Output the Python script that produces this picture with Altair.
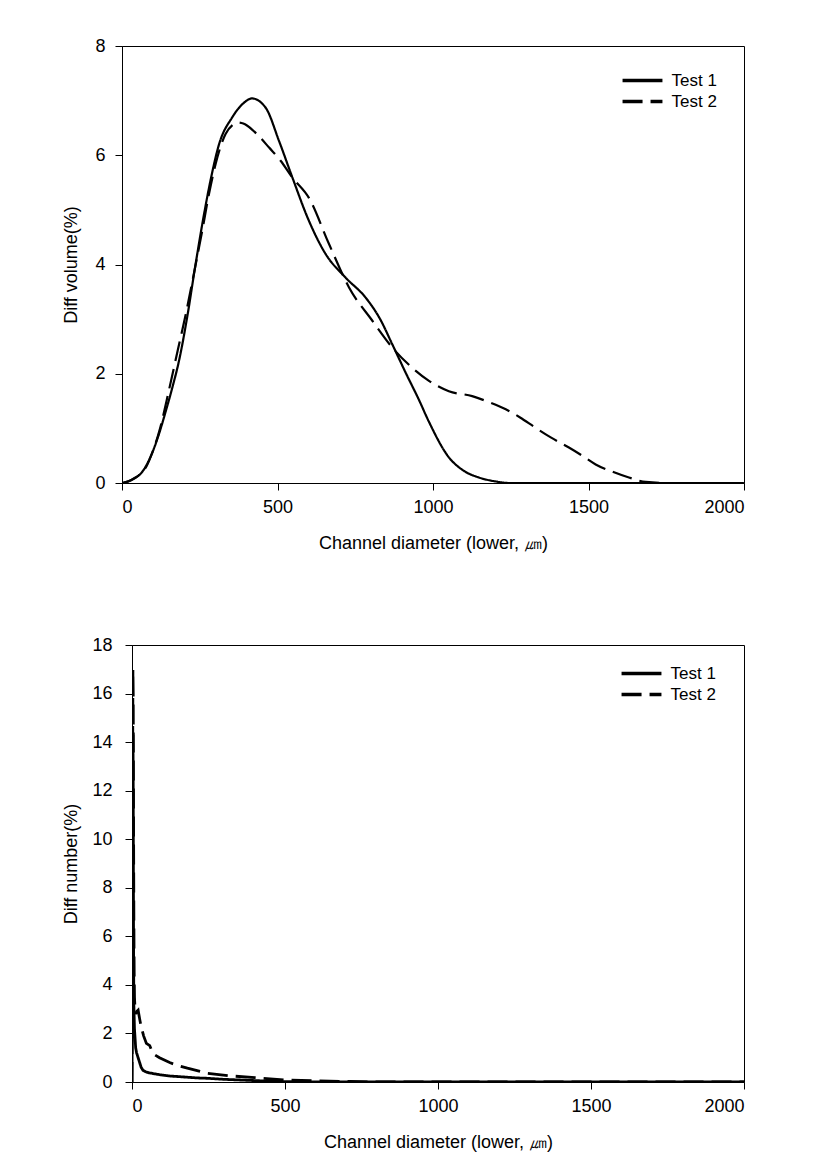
import altair as alt
import pandas as pd

# ---------- Top panel: differential volume ----------
vol_t1_x = [0, 20, 44, 60, 76, 97, 119, 140, 162, 183, 210, 235, 260, 285, 312, 354, 390, 418,
            462, 505, 548, 601, 655, 719, 784, 830, 869, 912, 955, 987, 1051, 1100, 1148, 1200,
            1244, 1300, 1500, 2000]
vol_t1_y = [0, 0.03, 0.1, 0.17, 0.3, 0.55, 0.9, 1.3, 1.75, 2.23, 3.05, 3.95, 4.8, 5.55, 6.2,
            6.69, 6.95, 7.04, 6.87, 6.26, 5.59, 4.8, 4.19, 3.76, 3.39, 3.0, 2.54, 2.02, 1.52, 1.12,
            0.47, 0.22, 0.1, 0.03, 0.0, 0, 0, 0]

vol_t2_x = [0, 20, 44, 60, 80, 97, 120, 151, 180, 205, 230, 258, 280, 301, 333, 355, 371, 390,
            403, 440, 473, 510, 548, 601, 666, 730, 805, 869, 933, 987, 1051, 1126, 1180, 1234,
            1280, 1330, 1380, 1437, 1480, 1523, 1580, 1630, 1684, 1750, 2000]
vol_t2_y = [0, 0.03, 0.1, 0.17, 0.32, 0.55, 0.95, 1.7, 2.45, 3.09, 3.8, 4.62, 5.3, 5.84, 6.39,
            6.55, 6.6, 6.58, 6.54, 6.35, 6.14, 5.9, 5.59, 5.22, 4.37, 3.58, 2.97, 2.48, 2.11, 1.87,
            1.68, 1.59, 1.48, 1.35, 1.2, 1.01, 0.83, 0.65, 0.5, 0.34, 0.2, 0.1, 0.02, 0, 0]

# ---------- Bottom panel: differential number ----------
num_t1_x = [0, 1, 2, 3, 4, 5, 6, 8, 10, 12, 15, 20, 25, 30, 36, 45, 55, 68, 90, 120, 166, 210,
            250, 300, 376, 440, 505, 600, 800, 1000, 1500, 2000]
num_t1_y = [0, 3.0, 9.0, 14.3, 12.0, 6.0, 3.2, 2.2, 1.8, 1.4, 1.2, 1.0, 0.8, 0.6, 0.48, 0.42,
            0.38, 0.35, 0.3, 0.25, 0.21, 0.17, 0.15, 0.11, 0.07, 0.04, 0.014, 0, 0, 0, 0, 0]

num_t2_x = [0, 1, 2, 3, 4, 5, 6, 7, 8, 10, 12, 15, 20, 25, 30, 38, 47, 58, 68, 90, 123, 150, 181,
            246, 324, 402, 505, 600, 713, 800, 1000, 1500, 2000]
num_t2_y = [0, 5.0, 12.0, 17.0, 16.0, 11.0, 7.0, 4.5, 3.5, 3.0, 2.8, 2.9, 2.96, 2.6, 2.27, 1.9,
            1.59, 1.5, 1.17, 1.0, 0.8, 0.68, 0.57, 0.36, 0.25, 0.18, 0.08, 0.05, 0.02, 0, 0, 0, 0]

series = ["Test 1", "Test 2"]
x_ticks = [0, 500, 1000, 1500, 2000]
x_title = "Channel diameter (lower, ㎛)"

FONT = "Liberation Sans"


def long_df(x1, y1, x2, y2):
    a = pd.DataFrame({"x": x1, "y": y1, "s": series[0], "o": range(len(x1))})
    b = pd.DataFrame({"x": x2, "y": y2, "s": series[1], "o": range(len(x2))})
    return pd.concat([a, b], ignore_index=True)


def panel(df, ymax, ytitle, w, h, lwidth, interp, lab_pad, tit_pad, leg_x, leg_y):
    dash = alt.Scale(domain=series, range=[[1, 0], [20, 8]])
    return (
        alt.Chart(df)
        .mark_line(color="black", strokeWidth=lwidth, interpolate=interp, clip=True)
        .encode(
            x=alt.X("x:Q", scale=alt.Scale(domain=[0, 2000], nice=False),
                    axis=alt.Axis(values=x_ticks, title=x_title, labelPadding=8,
                                  titlePadding=18, format="d")),
            y=alt.Y("y:Q", scale=alt.Scale(domain=[0, ymax], nice=False),
                    axis=alt.Axis(values=list(range(0, ymax + 1, 2)), title=ytitle,
                                  labelPadding=lab_pad, titlePadding=tit_pad)),
            strokeDash=alt.StrokeDash(
                "s:N", scale=dash,
                legend=alt.Legend(title=None, orient="none", legendX=leg_x, legendY=leg_y,
                                  symbolType="M-1.9,0H1.9", symbolSize=441,
                                  symbolStrokeWidth=3.5, symbolStrokeColor="black",
                                  labelFont=FONT, labelFontSize=17, labelColor="black",
                                  labelOffset=16.5, rowPadding=0)),
            order="o:Q",
        )
        .properties(width=w, height=h)
    )


def spacer():
    return (
        alt.Chart(pd.DataFrame({"v": [0]}))
        .mark_point(opacity=0)
        .properties(width=1, height=1, view=alt.ViewBackground(stroke="transparent"))
    )


top = panel(long_df(vol_t1_x, vol_t1_y, vol_t2_x, vol_t2_y), 8, "Diff volume(%)",
            622, 437, 2.2, "monotone", 10, 14, 508, 22)
bottom = panel(long_df(num_t1_x, num_t1_y, num_t2_x, num_t2_y), 18, "Diff number(%)",
               612, 437, 2.8, "linear", 13, 11, 497, 16)

top_wrap = alt.hconcat(spacer(), top, spacing=0).resolve_scale(
    strokeDash="independent").resolve_legend(strokeDash="independent")
bottom_wrap = alt.hconcat(spacer(), bottom, spacing=0).resolve_scale(
    strokeDash="independent").resolve_legend(strokeDash="independent")

chart = (
    alt.vconcat(top_wrap, bottom_wrap, spacing=82)
    .resolve_scale(strokeDash="independent")
    .resolve_legend(strokeDash="independent")
    .properties(padding={"left": 47, "top": 28, "right": 10, "bottom": 5},
                background="white")
    .configure_axis(labelFont=FONT, labelFontSize=18, titleFont=FONT, titleFontSize=18,
                    titleFontWeight="normal", labelColor="black", titleColor="black",
                    domainColor="black", tickColor="black", grid=False, tickSize=7,
                    domainWidth=1, tickWidth=1)
    .configure_view(stroke="black", strokeWidth=1)
)

chart.save("out.html", embed_options={"renderer": "svg", "actions": False})
